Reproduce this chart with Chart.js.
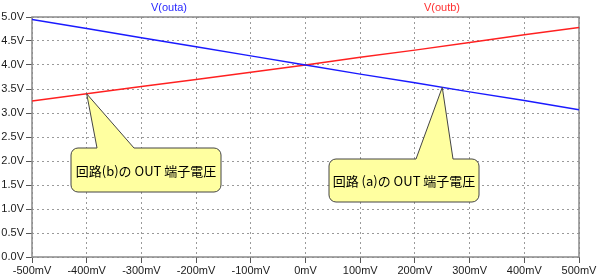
<!DOCTYPE html>
<html>
<head>
<meta charset="utf-8">
<script src="https://cdn.jsdelivr.net/npm/chart.js@4"></script>
<style>
    body { margin: 0; background: #ffffff; }
    #box { width: 600px; height: 279px; }
</style>
</head>
<body>
<div id="box"><canvas id="grafico"></canvas></div>
<script>
// eixo x em mV, eixo y em V
const entrada_mV = [-500, -400, -300, -200, -100, 0, 100, 200, 300, 400, 500];
const v_outa = [4.95, 4.76, 4.57, 4.38, 4.19, 4.00, 3.81, 3.63, 3.44, 3.26, 3.07];
const v_outb = [3.25, 3.40, 3.55, 3.70, 3.85, 4.00, 4.16, 4.31, 4.47, 4.63, 4.78];
const nomes_series = ['V(outa)', 'V(outb)'];
const textos_balao = ['回路(b)の OUT 端子電圧', '回路 (a)の OUT 端子電圧'];
// ponto (mV) onde cada balão aponta
const alvo_balao_b = -400;
const alvo_balao_a = 250;

function valorEm(xs, ys, x) {
    for (let i = 0; i < xs.length - 1; i++) {
        if (x >= xs[i] && x <= xs[i + 1]) {
            const t = (x - xs[i]) / (xs[i + 1] - xs[i]);
            return ys[i] + t * (ys[i + 1] - ys[i]);
        }
    }
    return ys[ys.length - 1];
}

function balao(ctx, bx, by, bw, bh, r, baseEsq, baseDir, tx, ty, texto) {
    ctx.beginPath();
    ctx.moveTo(bx + r, by);
    ctx.lineTo(baseEsq, by);
    ctx.lineTo(tx, ty);
    ctx.lineTo(baseDir, by);
    ctx.lineTo(bx + bw - r, by);
    ctx.arcTo(bx + bw, by, bx + bw, by + r, r);
    ctx.lineTo(bx + bw, by + bh - r);
    ctx.arcTo(bx + bw, by + bh, bx + bw - r, by + bh, r);
    ctx.lineTo(bx + r, by + bh);
    ctx.arcTo(bx, by + bh, bx, by + bh - r, r);
    ctx.lineTo(bx, by + r);
    ctx.arcTo(bx, by, bx + r, by, r);
    ctx.closePath();
    ctx.fillStyle = '#ffffa0';
    ctx.fill();
    ctx.strokeStyle = '#444444';
    ctx.lineWidth = 1;
    ctx.stroke();

    ctx.fillStyle = '#000000';
    ctx.font = '13px "Noto Sans CJK JP"';
    ctx.textAlign = 'center';
    ctx.textBaseline = 'middle';
    ctx.fillText(texto, bx + bw / 2, by + bh / 2 + 1);
}

const pluginExtras = {
    id: 'extras',
    beforeDatasetsDraw(chart) {
        const { ctx, chartArea: a } = chart;
        ctx.save();
        ctx.strokeStyle = '#8a8a8a';
        ctx.lineWidth = 1.5;
        ctx.strokeRect(a.left, a.top, a.right - a.left, a.bottom - a.top);
        ctx.restore();
    },
    afterDatasetsDraw(chart) {
        const { ctx, scales } = chart;
        const sx = scales.x, sy = scales.y;
        ctx.save();

        // títulos das séries
        ctx.font = '11px "Liberation Sans"';
        ctx.textAlign = 'center';
        ctx.textBaseline = 'middle';
        ctx.fillStyle = '#2828ff';
        ctx.fillText(nomes_series[0], 169, 8);
        ctx.fillStyle = '#ff3030';
        ctx.fillText(nomes_series[1], 442, 8);

        // balão do circuito (b)
        const tbx = sx.getPixelForValue(alvo_balao_b);
        const tby = sy.getPixelForValue(valorEm(entrada_mV, v_outb, alvo_balao_b));
        balao(ctx, 71, 148, 150, 44, 7, 97, 134, tbx, tby, textos_balao[0]);

        // balão do circuito (a)
        const tax = sx.getPixelForValue(alvo_balao_a);
        const tay = sy.getPixelForValue(valorEm(entrada_mV, v_outa, alvo_balao_a));
        balao(ctx, 329, 159, 150, 43, 7, 416, 453, tax, tay, textos_balao[1]);

        ctx.restore();
    }
};

const dados = {
    datasets: [
        {
            label: nomes_series[0],
            data: entrada_mV.map((x, i) => ({ x: x, y: v_outa[i] })),
            borderColor: '#1a1aff',
            borderWidth: 1.5,
            pointRadius: 0,
            tension: 0
        },
        {
            label: nomes_series[1],
            data: entrada_mV.map((x, i) => ({ x: x, y: v_outb[i] })),
            borderColor: '#ff2020',
            borderWidth: 1.5,
            pointRadius: 0,
            tension: 0
        }
    ]
};

const config = {
    type: 'line',
    data: dados,
    options: {
        responsive: true,
        maintainAspectRatio: false,
        animation: false,
        layout: { padding: { top: 17, right: 21, left: 0, bottom: 0 } },
        plugins: {
            legend: { display: false },
            tooltip: { enabled: false }
        },
        scales: {
            x: {
                type: 'linear',
                min: -500,
                max: 500,
                afterFit(scale) { scale.height = 22; },
                ticks: {
                    stepSize: 100,
                    autoSkip: false,
                    maxRotation: 0,
                    padding: 1,
                    color: '#1a1a1a',
                    font: { family: 'Liberation Sans', size: 11 },
                    callback: (v) => v + 'mV'
                },
                grid: {
                    color: '#9a9a9a',
                    tickColor: '#555555',
                    tickLength: 6
                },
                border: { display: false, dash: [2, 3] }
            },
            y: {
                min: 0,
                max: 5,
                afterFit(scale) { scale.width = 32; },
                ticks: {
                    stepSize: 0.5,
                    padding: 2,
                    color: '#1a1a1a',
                    font: { family: 'Liberation Sans', size: 11 },
                    callback: (v) => v.toFixed(1) + 'V'
                },
                grid: {
                    color: '#9a9a9a',
                    tickColor: '#555555',
                    tickLength: 6
                },
                border: { display: false, dash: [2, 3] }
            }
        }
    },
    plugins: [pluginExtras]
};

window.addEventListener('load', function () {
    const ctx = document.getElementById('grafico').getContext('2d');
    new Chart(ctx, config);
});
</script>
</body>
</html>
